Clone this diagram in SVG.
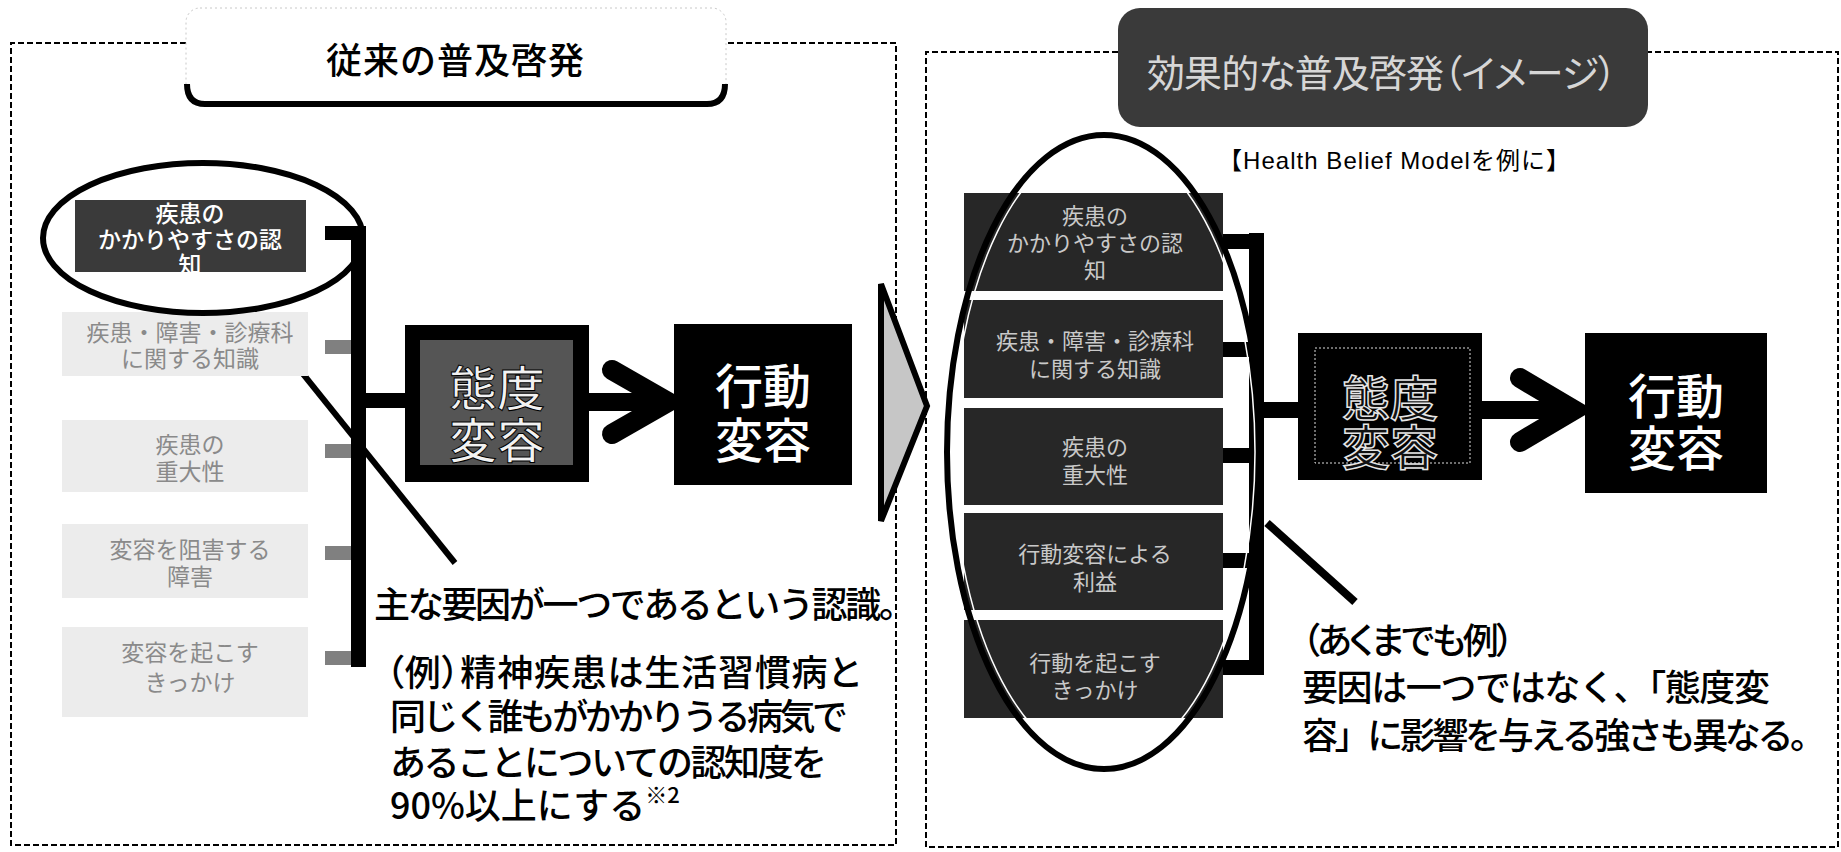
<svg xmlns="http://www.w3.org/2000/svg" width="1841" height="852" viewBox="0 0 1841 852">
<defs>
<style>
.jp{font-family:"Noto Sans CJK JP","Noto Sans CJK SC",sans-serif;}
.c{text-anchor:middle;dominant-baseline:central;}
.l{dominant-baseline:central;}
.panel{fill:none;stroke:#000;stroke-width:2;stroke-dasharray:6 3;}
.body{font-size:36px;fill:#000;font-weight:500;}
.palt{font-feature-settings:"palt";}
.f1t{font-size:23px;fill:#fff;font-weight:500;}
.fl{fill:#ececec;}
.flt{font-size:23px;fill:#8a8a8a;}
.fr{fill:#272727;}
.frt{font-size:22px;fill:#c9c9c9;}
.big{font-size:48px;font-weight:500;}
.conn{fill:#000;}
.tick{fill:#808080;}
</style>
</defs>
<rect width="1841" height="852" fill="#fff"/>

<g id="panels">
<path class="panel" d="M186,43 L11,43 L11,845 L896,845 L896,43 L726,43"/>
<path class="panel" d="M1118,52 L926,52 L926,847 L1838,847 L1838,52 L1648,52"/>
</g>

<g id="header-left">
<rect x="186" y="8" width="540" height="97" rx="14" fill="#fff" stroke="#c8c8c8" stroke-width="1" stroke-dasharray="2 3"/>
<path d="M187,84 Q187,104 205,104 L707,104 Q725,104 725,84" fill="none" stroke="#000" stroke-width="6"/>
<text class="jp c" x="455" y="58" font-size="36" font-weight="500" textLength="258">従来の普及啓発</text>
</g>

<g id="header-right">
<rect x="1118" y="8" width="530" height="119" rx="22" fill="#3a3a3a"/>
<text class="jp c palt" x="1382" y="70" font-size="38" fill="#d6d6d6" textLength="470">効果的な普及啓発（イメージ）</text>
<text class="c" x="1394" y="160" font-size="24" font-family="Liberation Sans, Noto Sans CJK JP, sans-serif" textLength="352">【Health Belief Modelを例に】</text>
</g>

<g id="connectors">
<rect class="conn" x="325" y="226" width="41" height="14"/>
<rect class="conn" x="351" y="226" width="15" height="441"/>
<rect class="tick" x="325" y="340" width="26" height="14"/>
<rect class="tick" x="325" y="444" width="26" height="14"/>
<rect class="tick" x="325" y="546" width="26" height="14"/>
<rect class="tick" x="325" y="651" width="26" height="14"/>
<rect class="conn" x="366" y="393" width="39" height="15"/>
<path d="M589,402 L660,402" stroke="#000" stroke-width="18"/>
<polyline points="612,370 668,402 612,434" fill="none" stroke="#000" stroke-width="20" stroke-linecap="round" stroke-linejoin="miter"/>
<line x1="254" y1="313" x2="455" y2="563" stroke="#000" stroke-width="6"/>

<rect class="conn" x="1249" y="233" width="15" height="442"/>
<rect class="conn" x="1223" y="234" width="26" height="15"/>
<rect class="conn" x="1223" y="342" width="26" height="15"/>
<rect class="conn" x="1223" y="448" width="26" height="15"/>
<rect class="conn" x="1223" y="553" width="26" height="15"/>
<rect class="conn" x="1223" y="660" width="26" height="15"/>
<rect class="conn" x="1264" y="402" width="34" height="16"/>
<path d="M1482,410 L1562,410" stroke="#000" stroke-width="18"/>
<polyline points="1520,378 1574,410 1520,442" fill="none" stroke="#000" stroke-width="20" stroke-linecap="round" stroke-linejoin="miter"/>
<line x1="1267" y1="523" x2="1355" y2="602" stroke="#000" stroke-width="8"/>
</g>

<g id="l-factor1">
<rect x="75" y="200" width="231" height="72" fill="#3a3a3a"/>
<text class="jp c f1t"><tspan x="190" y="212">疾患の</tspan><tspan x="190" y="238">かかりやすさの認</tspan><tspan x="190" y="263">知</tspan></text>
</g>
<g id="l-factor2">
<rect class="fl" x="62" y="312" width="246" height="64"/>
<text class="jp c flt"><tspan x="190" y="331">疾患・障害・診療科</tspan><tspan x="190" y="357">に関する知識</tspan></text>
</g>
<g id="l-factor3">
<rect class="fl" x="62" y="420" width="246" height="72"/>
<text class="jp c flt"><tspan x="190" y="443">疾患の</tspan><tspan x="190" y="470">重大性</tspan></text>
</g>
<g id="l-factor4">
<rect class="fl" x="62" y="524" width="246" height="74"/>
<text class="jp c flt"><tspan x="190" y="548">変容を阻害する</tspan><tspan x="190" y="575">障害</tspan></text>
</g>
<g id="l-factor5">
<rect class="fl" x="62" y="627" width="246" height="90"/>
<text class="jp c flt"><tspan x="190" y="651">変容を起こす</tspan><tspan x="190" y="681">きっかけ</tspan></text>
</g>
<g id="l-ellipse">
<ellipse cx="203" cy="238" rx="160" ry="75" fill="none" stroke="#000" stroke-width="6"/>
</g>

<g id="l-attitude">
<rect x="405" y="325" width="184" height="157" fill="#000"/>
<rect x="420" y="340" width="153" height="125" fill="#555"/>
<text class="jp c big" fill="#f2f2f2" stroke="#000" stroke-width="1"><tspan x="497" y="385">態度</tspan><tspan x="497" y="437">変容</tspan></text>
</g>
<g id="l-behavior">
<rect x="674" y="324" width="178" height="161" fill="#000"/>
<text class="jp c big" fill="#fff"><tspan x="763" y="383">行動</tspan><tspan x="763" y="437">変容</tspan></text>
</g>

<g id="l-notes">
<text class="jp l body" x="374" y="602" textLength="541">主な要因が一つであるという認識。</text>
<text class="jp l body palt" x="386" y="670" textLength="474">（例）精神疾患は生活習慣病と</text>
<text class="jp l body" x="390" y="714" textLength="458">同じく誰もがかかりうる病気で</text>
<text class="jp l body" x="390" y="760" textLength="437">あることについての認知度を</text>
<text class="jp l body" x="390" y="803">90%以上にする<tspan font-size="22" dy="-10">※2</tspan></text>
</g>

<g id="shift-arrow">
<polygon points="881,284 927,406 881,521" fill="#c6c6c6" stroke="#000" stroke-width="6" stroke-linejoin="miter"/>
</g>

<g id="r-factor1">
<rect class="fr" x="964" y="193" width="259" height="98"/>
<text class="jp c frt"><tspan x="1095" y="214">疾患の</tspan><tspan x="1095" y="241">かかりやすさの認</tspan><tspan x="1095" y="268">知</tspan></text>
</g>
<g id="r-factor2">
<rect class="fr" x="964" y="300" width="259" height="98"/>
<text class="jp c frt"><tspan x="1095" y="339">疾患・障害・診療科</tspan><tspan x="1095" y="367">に関する知識</tspan></text>
</g>
<g id="r-factor3">
<rect class="fr" x="964" y="408" width="259" height="97"/>
<text class="jp c frt"><tspan x="1095" y="445">疾患の</tspan><tspan x="1095" y="473">重大性</tspan></text>
</g>
<g id="r-factor4">
<rect class="fr" x="964" y="513" width="259" height="97"/>
<text class="jp c frt"><tspan x="1095" y="552">行動変容による</tspan><tspan x="1095" y="580">利益</tspan></text>
</g>
<g id="r-factor5">
<rect class="fr" x="964" y="620" width="259" height="98"/>
<text class="jp c frt"><tspan x="1095" y="661">行動を起こす</tspan><tspan x="1095" y="688">きっかけ</tspan></text>
</g>
<g id="r-ellipse">
<ellipse cx="1104" cy="452" rx="157" ry="317" fill="none" stroke="#000" stroke-width="6"/>
<ellipse cx="1104" cy="452" rx="151" ry="311" fill="none" stroke="#fff" stroke-width="1.5"/>
</g>

<g id="r-attitude">
<rect x="1298" y="333" width="184" height="147" fill="#000"/>
<rect x="1315" y="348" width="155" height="115" fill="none" stroke="#ddd" stroke-width="1" stroke-dasharray="2 2"/>
<text class="jp c big" fill="#111" stroke="#e6e6e6" stroke-width="1.5"><tspan x="1390" y="395">態度</tspan><tspan x="1390" y="444">変容</tspan></text>
</g>
<g id="r-behavior">
<rect x="1585" y="333" width="182" height="160" fill="#000"/>
<text class="jp c big" fill="#fff"><tspan x="1676" y="393">行動</tspan><tspan x="1676" y="445">変容</tspan></text>
</g>

<g id="r-notes">
<text class="jp l body palt" x="1302" y="638" textLength="212">（あくまでも例）</text>
<text class="jp l body" x="1302" y="685" textLength="468">要因は一つではなく、「態度変</text>
<text class="jp l body" x="1302" y="733" textLength="524">容」に影響を与える強さも異なる。</text>
</g>
</svg>
